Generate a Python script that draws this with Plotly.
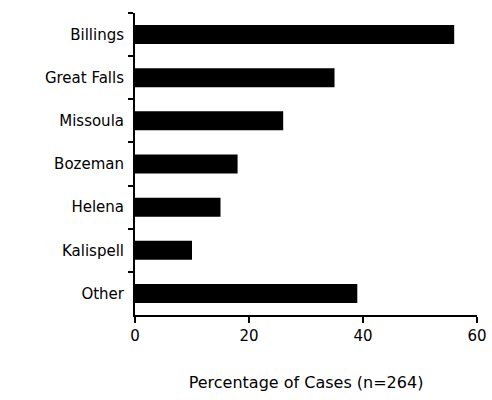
import plotly.graph_objects as go

cities = ["Billings", "Great Falls", "Missoula", "Bozeman", "Helena", "Kalispell", "Other"]
pct_cases = [56, 35, 26, 18, 15, 10, 39]
x_ticks = [0, 20, 40, 60]

# the page body keeps its 8px margin, so the figure is sized to fit the 492x400 window
_FONT = dict(family="DejaVu Sans, sans-serif", size=15, color="black")

fig = go.Figure(go.Bar(
    x=pct_cases, y=cities, orientation="h",
    marker=dict(color="black", line=dict(width=0)),
    width=0.44,
))

fig.update_layout(
    width=484, height=384,
    margin=dict(l=127, r=15, t=5, b=77),
    plot_bgcolor="white", paper_bgcolor="white",
    font=_FONT,
    showlegend=False,
    xaxis=dict(
        range=[0, 60], tickvals=x_ticks, showgrid=False, zeroline=False,
        showline=True, linecolor="black", linewidth=2, automargin=False,
        ticks="outside", ticklen=6, tickwidth=2, tickcolor="black",
        title=dict(text="Percentage of Cases (n=264)", standoff=35,
                   font=dict(size=16)),
        tickfont=dict(size=15),
    ),
    yaxis=dict(
        autorange="reversed", showgrid=False, zeroline=False,
        showline=True, linecolor="black", linewidth=2, automargin=False,
        ticks="outside", tickson="boundaries", ticklen=5, tickwidth=2,
        tickcolor="black", ticklabelstandoff=6,
        tickfont=dict(size=15),
    ),
)

# let the figure run up to the right edge of the window (the "60" label sits there)
fig.write_html("out.html", config={"displayModeBar": False},
               post_script="document.body.style.marginRight='0';")
